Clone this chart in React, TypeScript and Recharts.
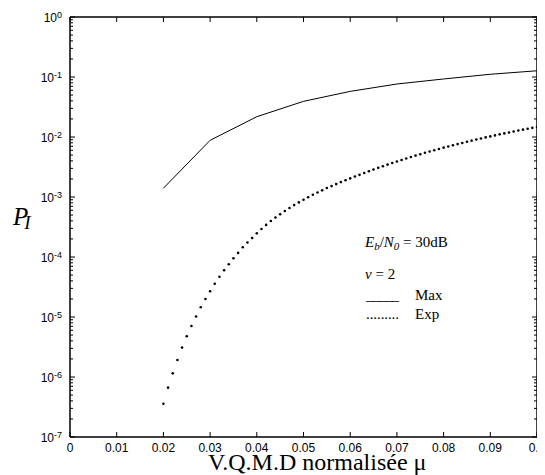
import React from "react";
import { ComposedChart, Line, Scatter, XAxis, YAxis } from "recharts";

// "Max" curve, read at every 0.01 of mu
const maxMu = [0.02, 0.03, 0.04, 0.05, 0.06, 0.07, 0.08, 0.09, 0.1];
const maxP = [1.4e-3, 8.8e-3, 0.0218, 0.0393, 0.0576, 0.0764, 0.0927, 0.111, 0.127];

// "Exp" curve, dotted, one point every 0.001 of mu
const expMu = [
  0.02, 0.021, 0.022, 0.023, 0.024, 0.025, 0.026, 0.027, 0.028, 0.029,
  0.03, 0.031, 0.032, 0.033, 0.034, 0.035, 0.036, 0.037, 0.038, 0.039,
  0.04, 0.041, 0.042, 0.043, 0.044, 0.045, 0.046, 0.047, 0.048, 0.049,
  0.05, 0.051, 0.052, 0.053, 0.054, 0.055, 0.056, 0.057, 0.058, 0.059,
  0.06, 0.061, 0.062, 0.063, 0.064, 0.065, 0.066, 0.067, 0.068, 0.069,
  0.07, 0.071, 0.072, 0.073, 0.074, 0.075, 0.076, 0.077, 0.078, 0.079,
  0.08, 0.081, 0.082, 0.083, 0.084, 0.085, 0.086, 0.087, 0.088, 0.089,
  0.09, 0.091, 0.092, 0.093, 0.094, 0.095, 0.096, 0.097, 0.098, 0.099,
  0.1,
];
const expP = [
  3.59e-7, 6.64e-7, 1.15e-6, 1.92e-6, 3.09e-6, 4.79e-6, 7.08e-6, 1.02e-5, 1.45e-5, 2.0e-5,
  2.69e-5, 3.59e-5, 4.68e-5, 6.03e-5, 7.59e-5, 9.55e-5, 1.17e-4, 1.45e-4, 1.74e-4, 2.07e-4,
  2.48e-4, 2.93e-4, 3.43e-4, 3.98e-4, 4.55e-4, 5.16e-4, 5.83e-4, 6.56e-4, 7.33e-4, 8.13e-4,
  8.99e-4, 9.91e-4, 1.09e-3, 1.19e-3, 1.29e-3, 1.41e-3, 1.52e-3, 1.64e-3, 1.77e-3, 1.9e-3,
  2.04e-3, 2.19e-3, 2.34e-3, 2.51e-3, 2.69e-3, 2.87e-3, 3.06e-3, 3.26e-3, 3.47e-3, 3.68e-3,
  3.91e-3, 4.14e-3, 4.39e-3, 4.63e-3, 4.9e-3, 5.16e-3, 5.45e-3, 5.73e-3, 6.03e-3, 6.32e-3,
  6.64e-3, 6.95e-3, 7.28e-3, 7.62e-3, 7.96e-3, 8.32e-3, 8.69e-3, 9.06e-3, 9.44e-3, 9.84e-3,
  1.023e-2, 1.064e-2, 1.107e-2, 1.148e-2, 1.191e-2, 1.236e-2, 1.282e-2, 1.327e-2, 1.374e-2, 1.422e-2,
  1.472e-2,
];

const xTicks = [0, 0.01, 0.02, 0.03, 0.04, 0.05, 0.06, 0.07, 0.08, 0.09, 0.1];
const xTickLabels = ["0", "0.01", "0.02", "0.03", "0.04", "0.05", "0.06", "0.07", "0.08", "0.09", "0.1"];
const decades = [-7, -6, -5, -4, -3, -2, -1, 0];
const minorSteps = [2, 3, 4, 5, 6, 7, 8, 9];

const maxData = maxMu.map((mu, i) => ({ mu, p: maxP[i] }));
const expData = expMu.map((mu, i) => ({ mu, p: expP[i] }));

const yTicks: number[] = [];
decades.forEach((e) => {
  yTicks.push(Number(`1e${e}`));
  if (e < 0) minorSteps.forEach((m) => yTicks.push(Number(`${m}e${e}`)));
});

const SANS = "'Liberation Sans', Arial, sans-serif";
const SERIF = "'Liberation Serif', 'Times New Roman', serif";

const isMajor = (v: number) => {
  const lg = Math.log10(v);
  return Math.abs(lg - Math.round(lg)) < 1e-6;
};

const LeftTick = ({ x, y, payload }: any) => {
  const major = isMajor(payload.value);
  const e = Math.round(Math.log10(payload.value));
  return (
    <g>
      <line x1={x} x2={x + (major ? 5 : 3)} y1={y} y2={y} stroke="#000" />
      {major && (
        <text x={x - 8} y={y + 5} textAnchor="end" fontFamily={SANS} fontSize={12} fill="#000">
          10
          <tspan dy={-4.5} fontSize={9}>
            {e}
          </tspan>
        </text>
      )}
    </g>
  );
};

const RightTick = ({ x, y, payload }: any) => {
  const major = isMajor(payload.value);
  return <line x1={x} x2={x - (major ? 5 : 3)} y1={y} y2={y} stroke="#000" />;
};

const BottomTick = ({ x, y, payload, index }: any) => (
  <g>
    <line x1={x} x2={x} y1={y} y2={y - 5} stroke="#000" />
    <text x={x} y={y + 15} textAnchor="middle" fontFamily={SANS} fontSize={12} fill="#000">
      {xTickLabels[index] ?? payload.value}
    </text>
  </g>
);

const TopTick = ({ x, y }: any) => <line x1={x} x2={x} y1={y} y2={y + 5} stroke="#000" />;

const Dot = ({ cx, cy }: any) => <circle cx={cx} cy={cy} r={1.3} fill="#000" />;

const frame = { stroke: "#000", strokeWidth: 1.5 };

export default function App() {
  return (
    <div style={{ position: "relative", width: 537, height: 467 }}>
      <ComposedChart width={537} height={467} margin={{ top: 8, right: 7, bottom: 0, left: 0 }}>
        <XAxis
          xAxisId="b"
          dataKey="mu"
          type="number"
          domain={[0, 0.1]}
          ticks={xTicks}
          interval={0}
          allowDataOverflow
          height={38}
          tickSize={0}
          tickMargin={0}
          tickLine={false}
          axisLine={frame}
          tick={<BottomTick />}
        />
        <XAxis
          xAxisId="t"
          orientation="top"
          dataKey="mu"
          type="number"
          domain={[0, 0.1]}
          ticks={xTicks}
          interval={0}
          allowDataOverflow
          height={1}
          tickSize={0}
          tickMargin={0}
          tickLine={false}
          axisLine={frame}
          tick={<TopTick />}
        />
        <YAxis
          yAxisId="l"
          type="number"
          scale="log"
          domain={[1e-7, 1]}
          ticks={yTicks}
          interval={0}
          allowDataOverflow
          width={62}
          tickSize={0}
          tickMargin={0}
          tickLine={false}
          axisLine={frame}
          tick={<LeftTick />}
        />
        <YAxis
          yAxisId="r"
          orientation="right"
          type="number"
          scale="log"
          domain={[1e-7, 1]}
          ticks={yTicks}
          interval={0}
          allowDataOverflow
          width={1}
          tickSize={0}
          tickMargin={0}
          tickLine={false}
          axisLine={frame}
          tick={<RightTick />}
        />
        <Line
          xAxisId="b"
          yAxisId="l"
          data={maxData}
          dataKey="p"
          type="linear"
          stroke="#000"
          strokeWidth={1}
          dot={false}
          activeDot={false}
          isAnimationActive={false}
        />
        <Scatter
          xAxisId="b"
          yAxisId="l"
          data={expData}
          dataKey="p"
          fill="#000"
          shape={<Dot />}
          isAnimationActive={false}
        />
      </ComposedChart>

      {/* annotations: axis titles and the in-plot legend */}
      <svg
        width={537}
        height={467}
        style={{ position: "absolute", left: 0, top: 0, overflow: "visible", pointerEvents: "none" }}
      >
        <text x={5} y={217} fontFamily={SERIF} fontStyle="italic" fontSize={25} fill="#000">
          P
          <tspan dx={-4} dy={4} fontSize={19}>
            I
          </tspan>
        </text>
        <text x={200} y={462} fontFamily={SERIF} fontSize={24} fill="#000">
          V.Q.M.D normalisée μ
        </text>
        <g fontFamily={SERIF} fontSize={15} fill="#000">
          <text x={357} y={239}>
            <tspan fontStyle="italic">E</tspan>
            <tspan fontStyle="italic" fontSize={11} dy={3}>
              b
            </tspan>
            <tspan dy={-3}>/</tspan>
            <tspan fontStyle="italic">N</tspan>
            <tspan fontStyle="italic" fontSize={11} dy={3}>
              0
            </tspan>
            <tspan dy={-3}> = 30dB</tspan>
          </text>
          <text x={357} y={271}>
            <tspan fontStyle="italic">v</tspan> = 2
          </text>
          <text x={358} y={292} textLength={33}>
            _____
          </text>
          <text x={407} y={292}>
            Max
          </text>
          <text x={358} y={311} textLength={33}>
            .........
          </text>
          <text x={407} y={311}>
            Exp
          </text>
        </g>
      </svg>
    </div>
  );
}
